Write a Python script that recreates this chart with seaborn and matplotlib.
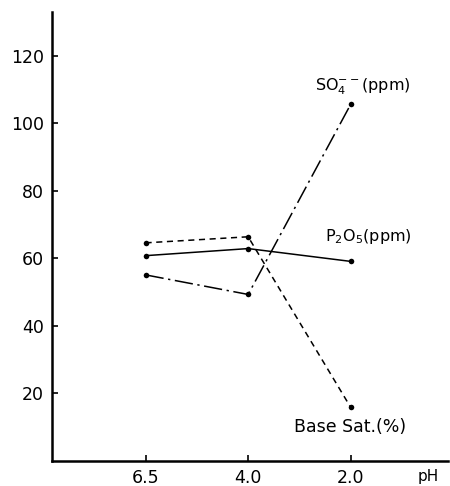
import pandas as pd
import matplotlib
matplotlib.use("Agg")
import matplotlib.pyplot as plt
import seaborn as sns

# values
ph_labels = ["6.5", "4.0", "2.0"]
base_sat = [64.6, 66.4, 15.8]
p2o5 = [60.8, 62.9, 59.1]
so4 = [55.1, 49.3, 105.7]
y_ticks = [20, 40, 60, 80, 100, 120]

sns.set_theme(style="ticks")
plt.rcParams["font.family"] = ["DejaVu Sans"]
plt.rcParams["text.color"] = "black"

fig = plt.figure(figsize=(4.5, 4.86), dpi=100)
ax = fig.add_axes([0.116, 0.052, 0.88, 0.923])

pos = list(range(len(ph_labels)))
df = pd.DataFrame({"pos": pos, "base": base_sat, "p2o5": p2o5, "so4": so4})

sns.lineplot(data=df, x="pos", y="base", ax=ax, color="black", lw=1.1,
             marker="o", markersize=4, markeredgewidth=0, linestyle=(0, (4, 3)))
sns.lineplot(data=df, x="pos", y="p2o5", ax=ax, color="black", lw=1.1,
             marker="o", markersize=4, markeredgewidth=0)
sns.lineplot(data=df, x="pos", y="so4", ax=ax, color="black", lw=1.1,
             marker="o", markersize=4, markeredgewidth=0,
             linestyle=(0, (12, 3, 1.5, 3)))

ax.set_xlim(-0.91, 2.95)
ax.set_ylim(0, 133)
ax.set_xticks(pos)
ax.set_xticklabels(ph_labels)
ax.set_yticks(y_ticks)
ax.set_xlabel("")
ax.set_ylabel("")
ax.tick_params(direction="in", length=4, width=1.2, colors="black",
               labelsize=12.5, pad=6)
for s in ["top", "right"]:
    ax.spines[s].set_visible(False)
for s in ["left", "bottom"]:
    ax.spines[s].set_linewidth(1.8)
    ax.spines[s].set_color("black")

ax.text(2.76, -2.5, "pH", fontsize=11, ha="center", va="top")
ax.text(1.65, 111, "SO$_4^{--}$(ppm)", fontsize=11.5, ha="left", va="center")
ax.text(1.75, 66.5, "P$_2$O$_5$(ppm)", fontsize=11.5, ha="left", va="center")
ax.text(1.45, 10, "Base Sat.(%)", fontsize=12.5, ha="left", va="center")

fig.savefig("out.png", dpi=100)
